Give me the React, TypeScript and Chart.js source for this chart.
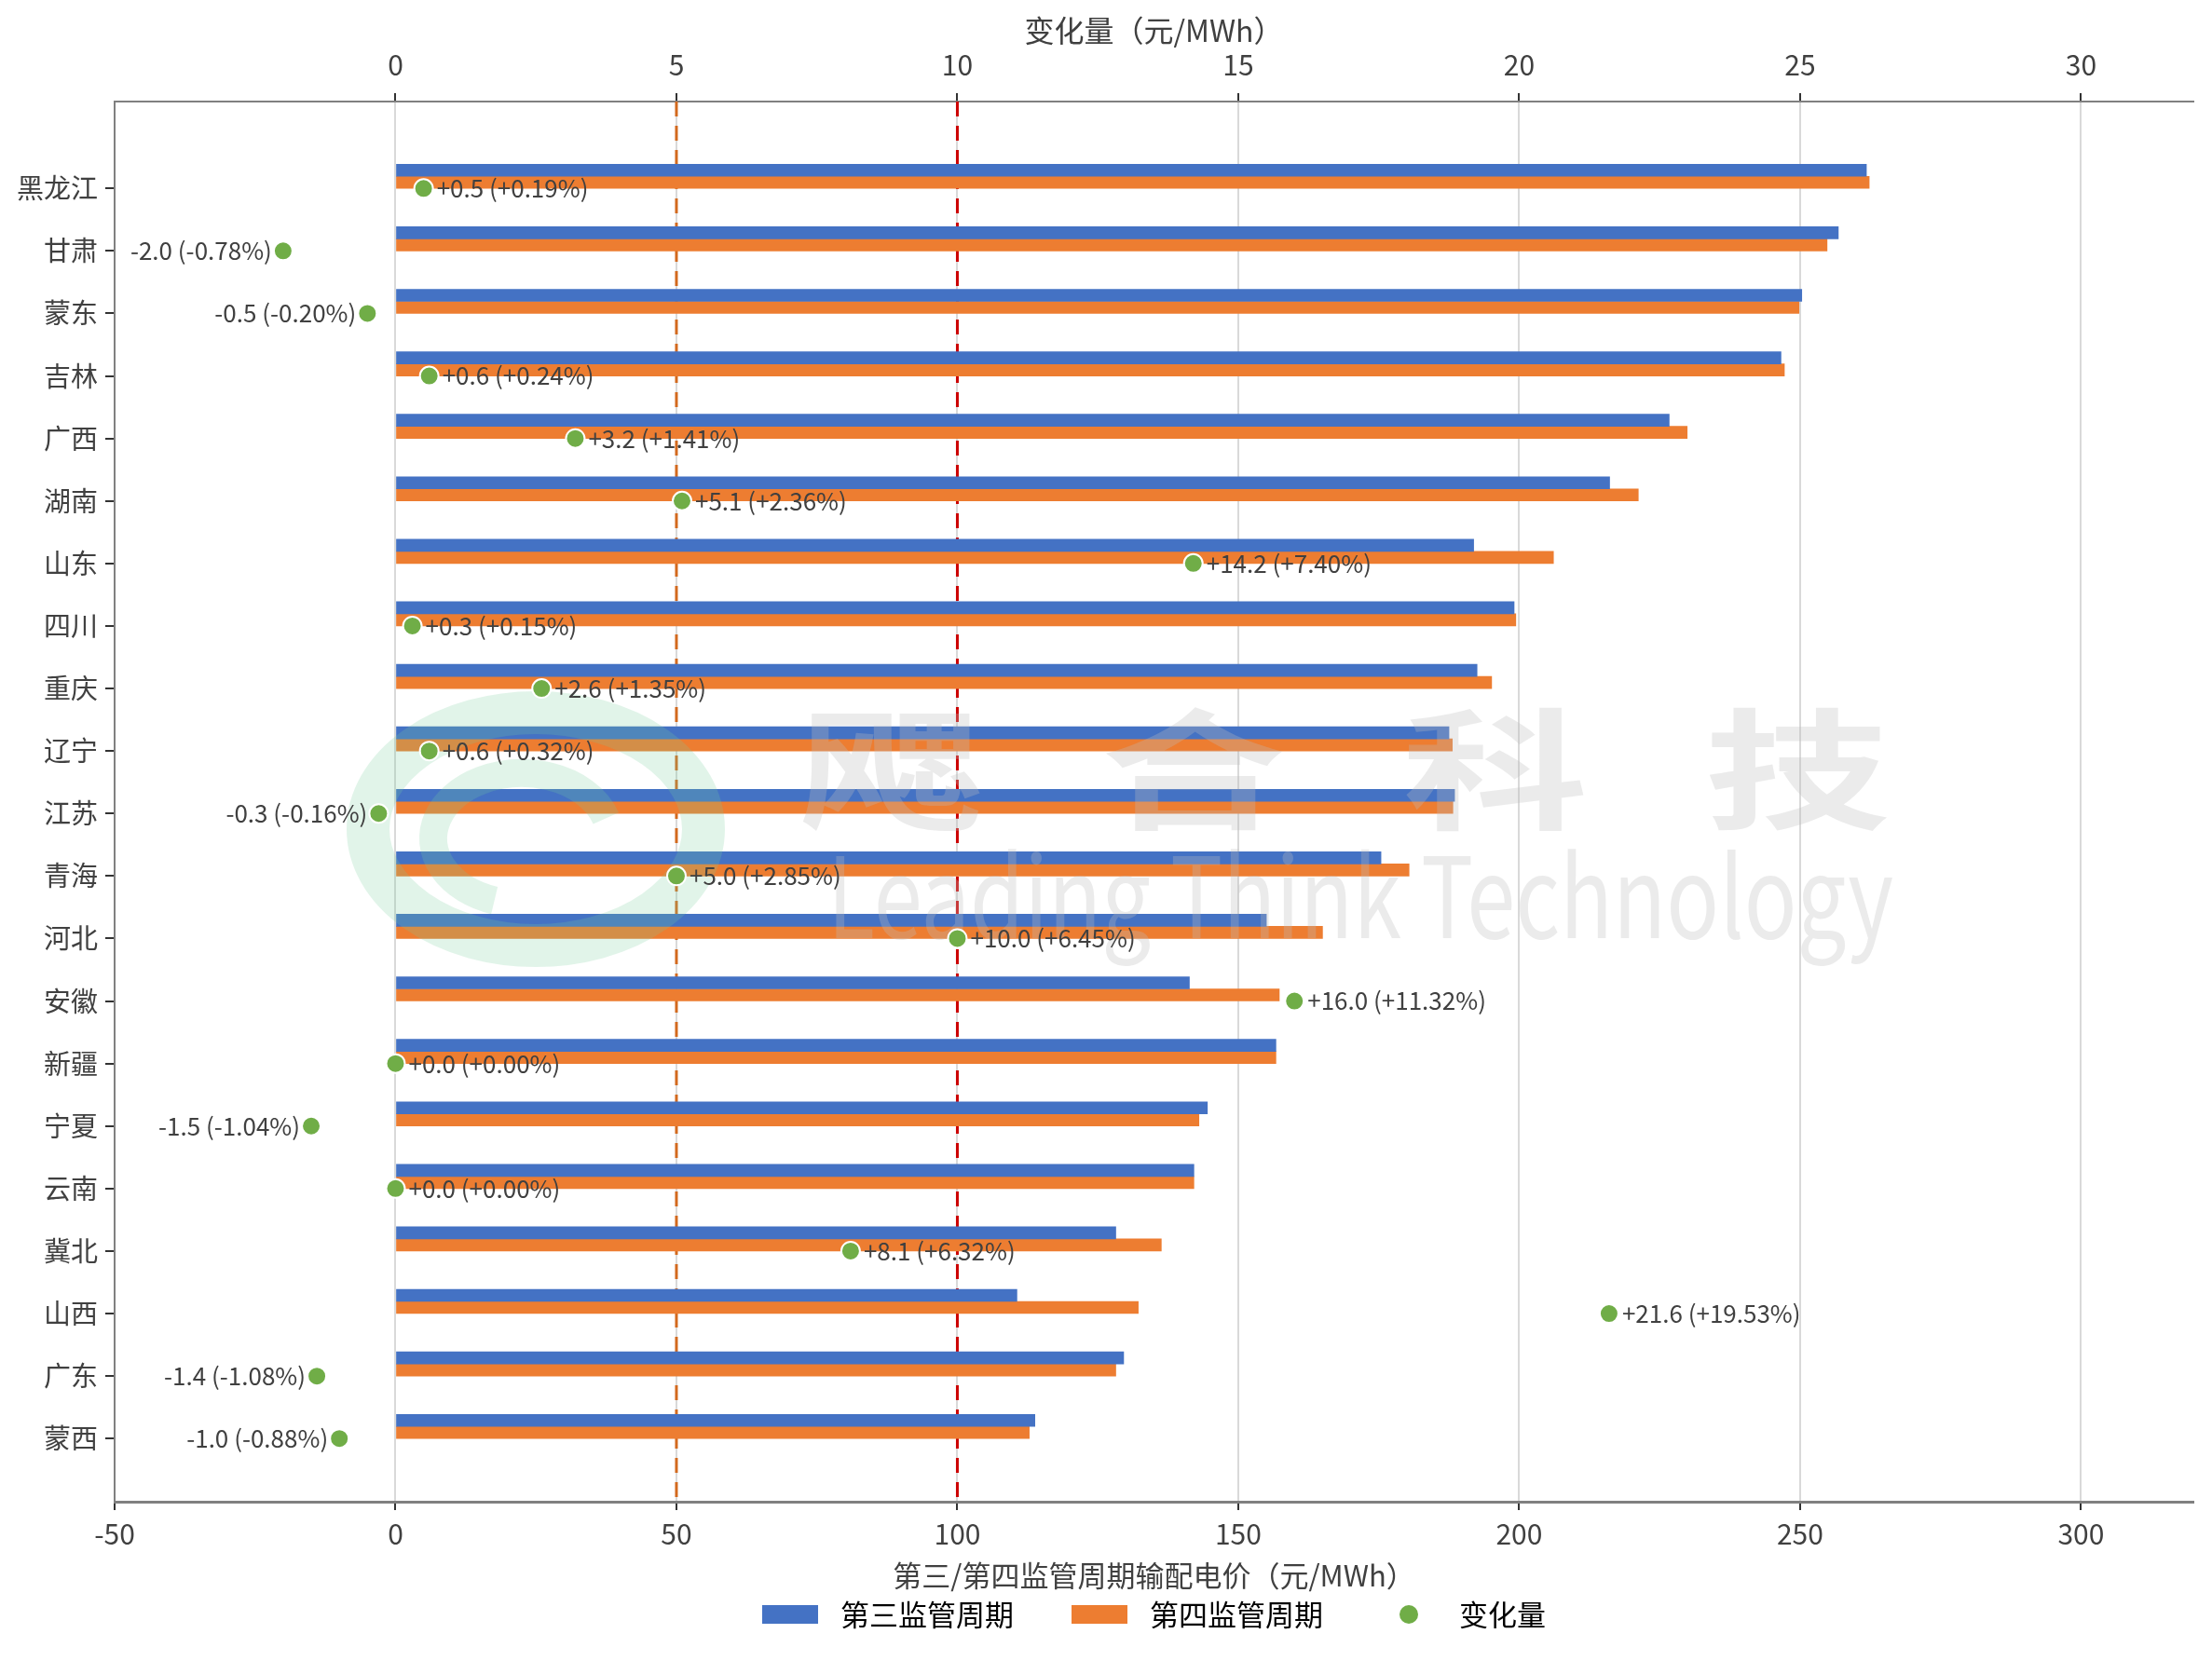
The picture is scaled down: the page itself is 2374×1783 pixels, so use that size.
import { useEffect, useRef } from "react";
import { Chart, registerables } from "chart.js";

Chart.register(...registerables);

const PROVINCES = [
  "黑龙江", "甘肃", "蒙东", "吉林", "广西", "湖南", "山东", "四川", "重庆", "辽宁", "江苏",
  "青海", "河北", "安徽", "新疆", "宁夏", "云南", "冀北", "山西", "广东", "蒙西",
];
// 第三监管周期 / 第四监管周期 (元/MWh)
const PERIOD3 = [
  261.8, 256.8, 250.3, 246.6, 226.7, 216.1, 191.9, 199.1, 192.5, 187.5, 188.5,
  175.4, 155.0, 141.3, 156.7, 144.5, 142.1, 128.2, 110.6, 129.6, 113.8,
];
const PERIOD4 = [
  262.3, 254.8, 249.8, 247.2, 229.9, 221.2, 206.1, 199.4, 195.1, 188.1, 188.2,
  180.4, 165.0, 157.3, 156.7, 143.0, 142.1, 136.3, 132.2, 128.2, 112.8,
];
// 变化量 (元/MWh) and percent
const CHANGE = [
  0.5, -2.0, -0.5, 0.6, 3.2, 5.1, 14.2, 0.3, 2.6, 0.6, -0.3,
  5.0, 10.0, 16.0, 0.0, -1.5, 0.0, 8.1, 21.6, -1.4, -1.0,
];
const CHANGE_PCT = [
  0.19, -0.78, -0.2, 0.24, 1.41, 2.36, 7.4, 0.15, 1.35, 0.32, -0.16,
  2.85, 6.45, 11.32, 0.0, -1.04, 0.0, 6.32, 19.53, -1.08, -0.88,
];
const PRICE_TICKS = [-50, 0, 50, 100, 150, 200, 250, 300];
const CHANGE_TICKS = [0, 5, 10, 15, 20, 25, 30];
const REF_LINES = [
  { value: 50, color: "#D2691E" },
  { value: 100, color: "#CC0000" },
];

const BLUE = "#4472C4";
const ORANGE = "#ED7D31";
const GREEN = "#70AD47";
const TEXT = "#404040";
const FONT = "'Noto Sans CJK SC', 'Noto Sans', sans-serif";
const BAR_H = 13;

const signed = (v: number, d: number) => (v < 0 ? "-" : "+") + Math.abs(v).toFixed(d);

const refLinesPlugin = {
  id: "refLines",
  beforeDatasetsDraw(chart: any) {
    const { ctx, chartArea } = chart;
    const x = chart.scales.x;
    ctx.save();
    ctx.lineWidth = 3;
    ctx.setLineDash([16, 10]);
    for (const r of REF_LINES) {
      const px = x.getPixelForValue(r.value);
      ctx.strokeStyle = r.color;
      ctx.beginPath();
      ctx.moveTo(px, chartArea.top);
      ctx.lineTo(px, chartArea.bottom);
      ctx.stroke();
    }
    ctx.restore();
  },
};

const watermarkPlugin = {
  id: "watermark",
  beforeDatasetDraw(chart: any, args: any) {
    if (args.meta.type !== "scatter") return;
    const { ctx } = chart;
    ctx.save();
    // logo ring
    ctx.strokeStyle = "rgba(120, 205, 155, 0.22)";
    ctx.lineWidth = 46;
    ctx.beginPath();
    ctx.ellipse(575, 890, 180, 125, 0, 0, Math.PI * 2);
    ctx.stroke();
    ctx.lineWidth = 30;
    ctx.beginPath();
    ctx.ellipse(560, 900, 95, 70, 0, Math.PI * 0.6, Math.PI * 1.9);
    ctx.stroke();
    // chinese name
    ctx.fillStyle = "rgba(190, 190, 190, 0.3)";
    ctx.textAlign = "center";
    ctx.textBaseline = "middle";
    ctx.font = `bold 140px ${FONT}`;
    const chars = ["飔", "合", "科", "技"];
    chars.forEach((c, i) => {
      ctx.save();
      ctx.translate(957 + i * 324, 826);
      ctx.scale(1.42, 1);
      ctx.fillText(c, 0, 0);
      ctx.restore();
    });
    // english name
    ctx.font = `120px ${FONT}`;
    ctx.textAlign = "left";
    ctx.textBaseline = "alphabetic";
    const t = "Leading Think Technology";
    const w = ctx.measureText(t).width;
    ctx.translate(888, 1007);
    ctx.scale(1144 / w, 1);
    ctx.fillText(t, 0, 0);
    ctx.restore();
  },
};

const pointLabelPlugin = {
  id: "pointLabels",
  afterDatasetsDraw(chart: any) {
    const { ctx } = chart;
    const meta = chart.getDatasetMeta(2);
    ctx.save();
    ctx.font = `26px ${FONT}`;
    ctx.fillStyle = TEXT;
    ctx.textBaseline = "middle";
    meta.data.forEach((pt: any, i: number) => {
      const txt = `${signed(CHANGE[i], 1)} (${signed(CHANGE_PCT[i], 2)}%)`;
      if (CHANGE[i] < 0) {
        ctx.textAlign = "right";
        ctx.fillText(txt, pt.x - 12, pt.y);
      } else {
        ctx.textAlign = "left";
        ctx.fillText(txt, pt.x + 14, pt.y);
      }
    });
    ctx.restore();
  },
};

const legendPlugin = {
  id: "customLegend",
  afterDraw(chart: any) {
    const { ctx, chartArea } = chart;
    const items = [
      { label: "第三监管周期", color: BLUE, kind: "rect" },
      { label: "第四监管周期", color: ORANGE, kind: "rect" },
      { label: "变化量", color: GREEN, kind: "dot" },
    ];
    ctx.save();
    ctx.font = `31px ${FONT}`;
    const handle = 60;
    const gapText = 24;
    const gapItem = 62;
    const widths = items.map((it) => ctx.measureText(it.label).width);
    const total =
      widths.reduce((a, b) => a + b, 0) + items.length * (handle + gapText) + gapItem * (items.length - 1);
    let x = (chartArea.left + chartArea.right) / 2 - total / 2;
    const y = 1733;
    items.forEach((it, i) => {
      ctx.fillStyle = it.color;
      if (it.kind === "rect") {
        ctx.fillRect(x, y - 10, handle, 20);
      } else {
        ctx.beginPath();
        ctx.arc(x + handle / 2, y, 10, 0, Math.PI * 2);
        ctx.fill();
      }
      ctx.fillStyle = "#000";
      ctx.textAlign = "left";
      ctx.textBaseline = "middle";
      ctx.fillText(it.label, x + handle + gapText, y);
      x += handle + gapText + widths[i] + gapItem;
    });
    ctx.restore();
  },
};

function PriceChart() {
  const canvasRef = useRef<HTMLCanvasElement>(null);

  useEffect(() => {
    document.body.style.margin = "0";
    if (!canvasRef.current) return;
    Chart.defaults.font.family = FONT;
    Chart.defaults.color = TEXT;

    const shift = BAR_H / 67.1;
    const chart = new Chart(canvasRef.current, {
      type: "bar",
      data: {
        datasets: [
          {
            label: "第三监管周期",
            data: PERIOD3.map((v, i) => ({ x: v, y: i - shift })),
            backgroundColor: BLUE,
            xAxisID: "x",
            yAxisID: "y",
            barThickness: BAR_H,
            order: 1,
          },
          {
            label: "第四监管周期",
            data: PERIOD4.map((v, i) => ({ x: v, y: i - shift })),
            backgroundColor: ORANGE,
            xAxisID: "x",
            yAxisID: "y",
            barThickness: BAR_H,
            order: 1,
          },
          {
            type: "scatter",
            label: "变化量",
            data: CHANGE.map((v, i) => ({ x: v, y: i })),
            backgroundColor: GREEN,
            borderColor: "#ffffff",
            borderWidth: 2,
            pointRadius: 10,
            xAxisID: "x2",
            yAxisID: "y",
            order: 0,
          } as any,
        ],
      },
      options: {
        indexAxis: "y",
        animation: false,
        responsive: true,
        maintainAspectRatio: false,
        layout: { padding: { top: 0, right: 20, bottom: 71, left: 0 } },
        plugins: { legend: { display: false }, tooltip: { enabled: false } },
        scales: {
          y: {
            type: "linear",
            reverse: true,
            offset: false,
            min: -1.39,
            max: 21.01,
            afterBuildTicks: (s: any) => {
              s.ticks = PROVINCES.map((_, i) => ({ value: i }));
            },
            afterFit: (s: any) => {
              s.width = 123;
            },
            ticks: {
              autoSkip: false,
              padding: 8,
              color: TEXT,
              font: { size: 29 },
              callback: (v: any) => PROVINCES[v as number] ?? "",
            },
            grid: {
              offset: false,
              drawOnChartArea: false,
              tickLength: 10,
              tickColor: "#333",
              lineWidth: 2,
            },
            border: { color: "#808080", width: 2 },
          },
          x: {
            type: "linear",
            position: "bottom",
            min: -50,
            max: 320,
            afterBuildTicks: (s: any) => {
              s.ticks = PRICE_TICKS.map((v) => ({ value: v }));
            },
            afterFit: (s: any) => {
              s.height = 100;
            },
            ticks: { padding: 8, color: TEXT, font: { size: 30 } },
            grid: {
              color: (c: any) => (c.tick && c.tick.value === -50 ? "rgba(0,0,0,0)" : "#d9d9d9"),
              lineWidth: 2,
              tickLength: 9,
              tickColor: "#333",
            },
            border: { color: "#808080", width: 3 },
            title: {
              display: true,
              text: "第三/第四监管周期输配电价（元/MWh）",
              color: TEXT,
              font: { size: 31 },
              padding: { top: 0, bottom: 2.4 },
            },
          },
          x2: {
            type: "linear",
            position: "top",
            min: -5,
            max: 32,
            afterBuildTicks: (s: any) => {
              s.ticks = CHANGE_TICKS.map((v) => ({ value: v }));
            },
            afterFit: (s: any) => {
              s.height = 109;
            },
            ticks: { padding: 12, color: TEXT, font: { size: 30 } },
            grid: { drawOnChartArea: false, tickLength: 9, tickColor: "#333", lineWidth: 2 },
            border: { color: "#808080", width: 2 },
            title: {
              display: true,
              text: "变化量（元/MWh）",
              color: TEXT,
              font: { size: 32 },
              padding: { top: 14, bottom: 0 },
            },
          },
        },
      },
      plugins: [refLinesPlugin, watermarkPlugin, pointLabelPlugin, legendPlugin],
    });
    return () => chart.destroy();
  }, []);

  return (
    <div style={{ position: "relative", width: 2374, height: 1783 }}>
      <canvas
        ref={canvasRef}
        role="img"
        aria-label="第三/第四监管周期各省输配电价及变化量"
      />
    </div>
  );
}

export default function App() {
  return <PriceChart />;
}
